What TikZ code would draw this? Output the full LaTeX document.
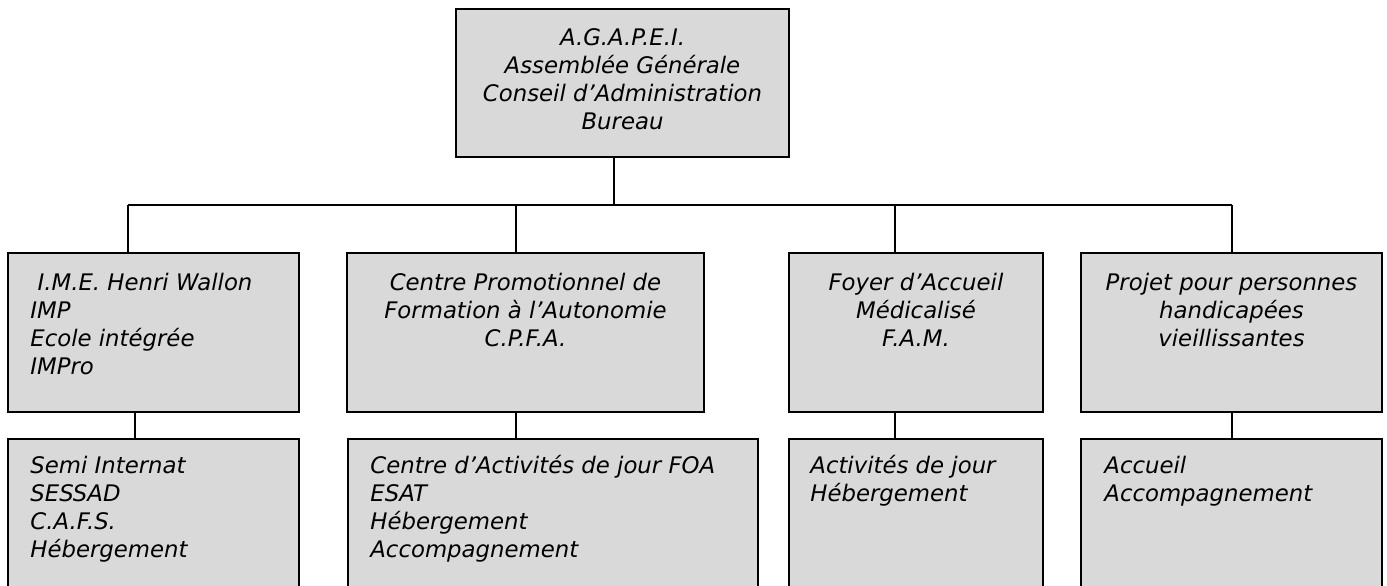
\documentclass[tikz,border=0pt]{standalone}
\usepackage{fontspec}
\setmainfont{DejaVu Sans}
\usetikzlibrary{fit}
\definecolor{boxgray}{RGB}{217,217,217}
\tikzset{
  box/.style={draw=black, line width=1pt, fill=boxgray, rectangle, inner sep=0pt},
  conn/.style={draw=black, line width=0.75pt},
  txt/.style={inner sep=0pt, font=\itshape\fontsize{11.4}{14}\selectfont},
}
\newcommand{\cbox}[5]{%
  \coordinate (#1-nw) at (#2,#3);
  \coordinate (#1-se) at (#4,#5);
  \node[box, fit=(#1-nw)(#1-se)] (#1) {};
}
\newcommand{\ctext}[3]{\node[txt, anchor=base] at (#1,#2) {\begin{tabular}[t]{@{}c@{}}#3\end{tabular}};}
\newcommand{\ltext}[3]{\node[txt, anchor=base west] at (#1,#2) {\begin{tabular}[t]{@{}l@{}}#3\end{tabular}};}
\begin{document}
\begin{tikzpicture}[x=0.5pt, y=-0.5pt]
  \useasboundingbox (0,0) rectangle (1387,585);
  \fill[white] (0,0) rectangle (1387,585);
  \clip (0,0) rectangle (1387,585);

  % top
  \cbox{top}{456}{9}{789}{157}
  \ctext{622.5}{45}{A.G.A.P.E.I.\\Assemblée Générale\\Conseil d’Administration\\Bureau}

  % row 2
  \cbox{a}{8}{253}{299}{412}
  \cbox{b}{347}{253}{704}{412}
  \cbox{c}{789}{253}{1043}{412}
  \cbox{d}{1081}{253}{1382}{412}
  \ltext{30}{290}{\ I.M.E. Henri Wallon\\IMP\\Ecole intégrée\\IMPro}
  \ctext{525.5}{290}{Centre Promotionnel de\\Formation à l’Autonomie\\C.P.F.A.}
  \ctext{916}{290}{Foyer d’Accueil\\Médicalisé\\F.A.M.}
  \ctext{1231.5}{290}{Projet pour personnes\\handicapées\\vieillissantes}

  % row 3
  \cbox{a2}{8}{439}{299}{600}
  \cbox{b2}{348}{439}{758}{600}
  \cbox{c2}{789}{439}{1043}{600}
  \cbox{d2}{1081}{439}{1382}{600}
  \ltext{30}{473}{Semi Internat\\SESSAD\\C.A.F.S.\\Hébergement}
  \ltext{370}{473}{Centre d’Activités de jour FOA\\ESAT\\Hébergement\\Accompagnement}
  \ltext{810}{473}{Activités de jour\\Hébergement}
  \ltext{1104}{473}{Accueil\\Accompagnement}

  % connectors
  \coordinate (hl) at (128,205);
  \coordinate (hr) at (1232,205);
  \coordinate (k0) at (614,205);
  \coordinate (k2) at (516,205);
  \coordinate (k3) at (895,205);
  \coordinate (k1) at (135,205);
  \draw[conn] (hl) -- (hr);
  \draw[conn] (k0 |- top.south) -- (k0);
  \draw[conn] (hl) -- (hl |- a.north);
  \draw[conn] (k2) -- (k2 |- b.north);
  \draw[conn] (k3) -- (k3 |- c.north);
  \draw[conn] (hr) -- (hr |- d.north);
  \draw[conn] (k1 |- a.south) -- (k1 |- a2.north);
  \draw[conn] (k2 |- b.south) -- (k2 |- b2.north);
  \draw[conn] (k3 |- c.south) -- (k3 |- c2.north);
  \draw[conn] (hr |- d.south) -- (hr |- d2.north);
\end{tikzpicture}
\end{document}
